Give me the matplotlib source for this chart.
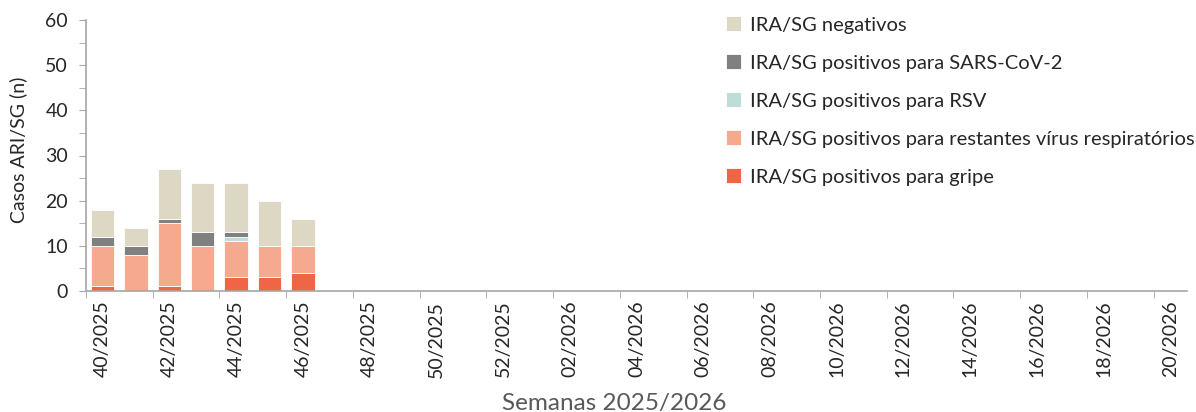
import numpy as np
import matplotlib
matplotlib.use("Agg")
import matplotlib.pyplot as plt

plt.rcParams['font.family'] = ['Lato', 'DejaVu Sans']

# semanas 40/2025 .. 20/2026
weeks = [f"{w:02d}/2025" for w in range(40, 53)] + [f"{w:02d}/2026" for w in range(1, 21)]

# only weeks 40-46 have data so far
gripe      = [1, 0, 1, 0, 3, 3, 4]
restantes  = [9, 8, 14, 10, 8, 7, 6]
rsv        = [0, 0, 0, 0, 1, 0, 0]
sars       = [2, 2, 1, 3, 1, 0, 0]
negativos  = [6, 4, 11, 11, 11, 10, 6]

series = [
    ("IRA/SG positivos para gripe", gripe, "#EF6647"),
    ("IRA/SG positivos para restantes vírus respiratórios", restantes, "#F5AA90"),
    ("IRA/SG positivos para RSV", rsv, "#BEDDD9"),
    ("IRA/SG positivos para SARS-CoV-2", sars, "#808080"),
    ("IRA/SG negativos", negativos, "#DDD8C3"),
]

fig = plt.figure(figsize=(11.96, 4.12), dpi=100)
ax = fig.add_axes([86 / 1196, 1 - 291 / 412, (1187 - 86) / 1196, (291 - 20) / 412])

n = len(weeks)
x = np.arange(len(gripe))
bottom = np.zeros(len(gripe))
handles = []
for label, vals, col in series:
    vals = np.array(vals, dtype=float)
    b = ax.bar(x, vals, width=0.7, bottom=bottom, color=col, edgecolor="white",
               linewidth=0.6, label=label)
    handles.append(b)
    bottom += vals

ax.set_xlim(-0.5, n - 0.5)
ax.set_ylim(0, 60)

# y axis: labels every 10, ticks every 5
ax.set_yticks(np.arange(0, 61, 10))
ax.set_yticks(np.arange(5, 60, 10), minor=True)
ax.tick_params(axis="y", which="both", length=5, color="#A6A6A6", labelsize=14,
               labelcolor="#262626", pad=8)

# x axis: labels every 2 weeks, tick marks between categories
ax.set_xticks(np.arange(0, n, 2))
ax.set_xticklabels(weeks[::2], rotation=90, fontsize=14, color="#262626")
ax.set_xticks(np.arange(-0.5, n - 1, 2), minor=True)
ax.tick_params(axis="x", which="major", length=0, pad=7)
ax.tick_params(axis="x", which="minor", length=5, color="#A6A6A6")

for s in ["top", "right"]:
    ax.spines[s].set_visible(False)
for s in ["left", "bottom"]:
    ax.spines[s].set_color("#A6A6A6")
    ax.spines[s].set_linewidth(1.2)

ax.set_ylabel("Casos ARI/SG (n)", fontsize=14, color="#262626")
ax.yaxis.set_label_coords(-0.053, 0.52)
ax.set_xlabel("Semanas 2025/2026", fontsize=17.5, color="#595959")
ax.xaxis.set_label_coords(0.48, -0.375)

leg = ax.legend(handles[::-1], [s[0] for s in series][::-1], loc="upper left",
                bbox_to_anchor=(0.565, 1.08), frameon=False, fontsize=14.5,
                handlelength=0.75, handleheight=0.75, handletextpad=0.45,
                labelspacing=1.02, labelcolor="#262626")

fig.savefig("out.png", dpi=100)
